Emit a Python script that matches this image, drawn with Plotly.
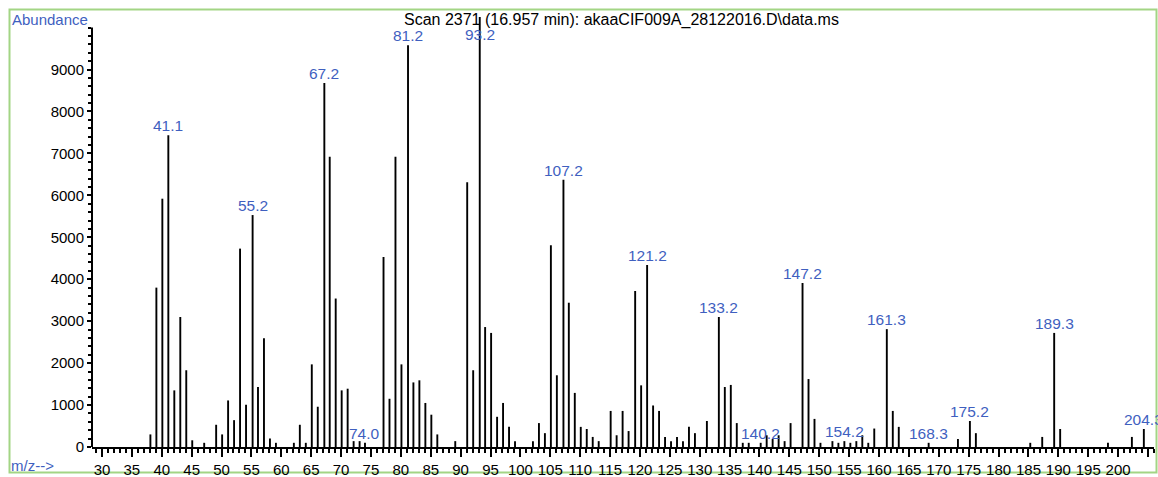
import plotly.graph_objects as go

# ---------------- data ----------------
mz = [38.1, 39.1, 40.1, 41.1, 42.1, 43.1, 44.1, 45.1, 47.1, 49.1, 50.1, 51.1, 52.1, 53.1, 54.1,
      55.2, 56.1, 57.1, 58.1, 59.1, 62.1, 63.1, 64.1, 65.1, 66.1, 67.2, 68.1, 69.1, 70.1, 71.1,
      72.1, 73.1, 74.0, 77.1, 78.1, 79.1, 80.1, 81.2, 82.1, 83.1, 84.1, 85.1, 86.1, 89.1, 91.1,
      92.1, 93.2, 94.1, 95.1, 96.1, 97.1, 98.1, 99.1, 102.1, 103.1, 104.1, 105.1, 106.1, 107.2,
      108.1, 109.1, 110.1, 111.1, 112.1, 113.1, 115.1, 116.1, 117.1, 118.1, 119.2, 120.2, 121.2,
      122.2, 123.2, 124.2, 125.2, 126.2, 127.2, 128.2, 129.2, 131.2, 133.2, 134.2, 135.2, 136.2,
      137.2, 138.2, 140.2, 141.2, 142.2, 143.2, 144.2, 145.2, 147.2, 148.2, 149.2, 150.2, 152.2,
      153.2, 154.2, 155.2, 156.2, 157.2, 158.2, 159.2, 161.3, 162.3, 163.3, 168.3, 173.2, 175.2,
      176.2, 185.3, 187.3, 189.3, 190.3, 198.3, 202.3, 204.3]
abundance = [300, 3800, 5920, 7430, 1350, 3100, 1830, 160, 100, 530, 300, 1110, 640, 4730, 1010,
             5530, 1430, 2590, 200, 100, 100, 530, 100, 1970, 960, 8680, 6920, 3540, 1350, 1390,
             140, 140, 100, 4530, 1150, 6920, 1970, 9580, 1540, 1590, 1050, 770, 300, 140, 6310,
             1830, 10250, 2860, 2720, 720, 1050, 480, 140, 140, 570, 330, 4810, 1710, 6370,
             3440, 1290, 480, 430, 240, 140, 860, 280, 860, 380, 3720, 1470, 4340,
             990, 860, 240, 140, 240, 140, 480, 330, 620, 3100, 1430, 1480, 570,
             100, 100, 100, 280, 190, 280, 140, 570, 3910, 1620, 670, 100, 140,
             100, 140, 100, 140, 280, 100, 440, 2810, 860, 480, 100, 190, 620,
             330, 100, 240, 2720, 430, 100, 240, 430]
labeled_mz = [41.1, 55.2, 67.2, 74.0, 81.2, 93.2, 107.2, 121.2, 133.2, 140.2, 147.2, 154.2,
              161.3, 168.3, 175.2, 189.3, 204.3]
y_tick_values = [0, 1000, 2000, 3000, 4000, 5000, 6000, 7000, 8000, 9000]
title_text = "Scan 2371 (16.957 min): akaaCIF009A_28122016.D\\data.ms"

# ---------------- style / layout ----------------
W, H = 1158, 477
ML, MR, MT, MB = 92, 4, 15, 30
X_RANGE = [28.33, 206.0]
Y_RANGE = [0, 10300]
Y_AXIS_TOP = 10000
LABEL_CAP = 9600
FONT = "Liberation Sans, Arial, sans-serif"
BLUE = "#3f5fbf"
GREEN = "#a3d585"

plot_w = W - ML - MR
plot_h = H - MT - MB


def px_x(p):
    return (p - ML) / plot_w


def px_y(p):
    return (H - MB - p) / plot_h


# stems
xs, ys = [], []
for m, a in zip(mz, abundance):
    xs += [m, m, None]
    ys += [0, a, None]

fig = go.Figure()
fig.add_trace(go.Scatter(x=xs, y=ys, mode="lines",
                         line=dict(color="black", width=1.9),
                         hoverinfo="skip", showlegend=False, cliponaxis=False))

annotations = []
lookup = dict(zip(mz, abundance))
for m in labeled_mz:
    annotations.append(dict(x=m, y=min(lookup[m], LABEL_CAP), xref="x", yref="y",
                            text=f"{m:.1f}", showarrow=False, yanchor="bottom",
                            xanchor="center", yshift=-1,
                            font=dict(family=FONT, size=15.5, color=BLUE)))

annotations.append(dict(x=px_x(10), y=px_y(19), xref="paper", yref="paper",
                        text="Abundance", showarrow=False, xanchor="left", yanchor="middle",
                        font=dict(family=FONT, size=15, color=BLUE)))
annotations.append(dict(x=px_x(9), y=px_y(465), xref="paper", yref="paper",
                        text="m/z-->", showarrow=False, xanchor="left", yanchor="middle",
                        font=dict(family=FONT, size=15, color=BLUE)))
annotations.append(dict(x=px_x(621), y=px_y(20), xref="paper", yref="paper",
                        text=title_text, showarrow=False, xanchor="center", yanchor="middle",
                        font=dict(family=FONT, size=16, color="black")))

shapes = [
    # frame
    dict(type="rect", xref="paper", yref="paper",
         x0=px_x(9.5), x1=px_x(1156.5), y0=px_y(472.5), y1=px_y(9.5),
         line=dict(color=GREEN, width=2), layer="below"),
    # y axis line
    dict(type="line", xref="paper", yref="y", x0=0, x1=0, y0=0, y1=Y_AXIS_TOP,
         line=dict(color="black", width=2)),
]

fig.update_layout(
    template="none",
    width=W, height=H,
    margin=dict(l=ML, r=MR, t=MT, b=MB, pad=0, autoexpand=False),
    paper_bgcolor="white", plot_bgcolor="white",
    showlegend=False,
    annotations=annotations,
    shapes=shapes,
    xaxis=dict(range=X_RANGE, tickmode="linear", tick0=30, dtick=5,
               ticks="outside", ticklen=8, tickwidth=1.5, tickcolor="black",
               showline=True, linecolor="black", linewidth=2,
               showgrid=False, zeroline=False, tickangle=0, automargin=False,
               tickfont=dict(family=FONT, size=15, color="black"),
               minor=dict(tickmode="linear", tick0=30, dtick=1, ticks="outside",
                          ticklen=4, tickwidth=1.5, tickcolor="black", showgrid=False)),
    yaxis=dict(range=Y_RANGE, tickmode="array", tickvals=y_tick_values,
               ticktext=[str(v) for v in y_tick_values],
               ticks="outside", ticklen=4, tickwidth=1.5, tickcolor="black",
               showline=False, showgrid=False, zeroline=False, automargin=False,
               tickfont=dict(family=FONT, size=15, color="black"),
               minor=dict(tickmode="array",
                          tickvals=list(range(0, Y_AXIS_TOP + 1, 200)),
                          ticks="outside", ticklen=3, tickwidth=1.5,
                          tickcolor="black", showgrid=False)),
)

fig.write_html("out.html",
               config={"displayModeBar": False},
               post_script="document.body.style.margin='0';"
                           "document.body.style.overflow='hidden';")
